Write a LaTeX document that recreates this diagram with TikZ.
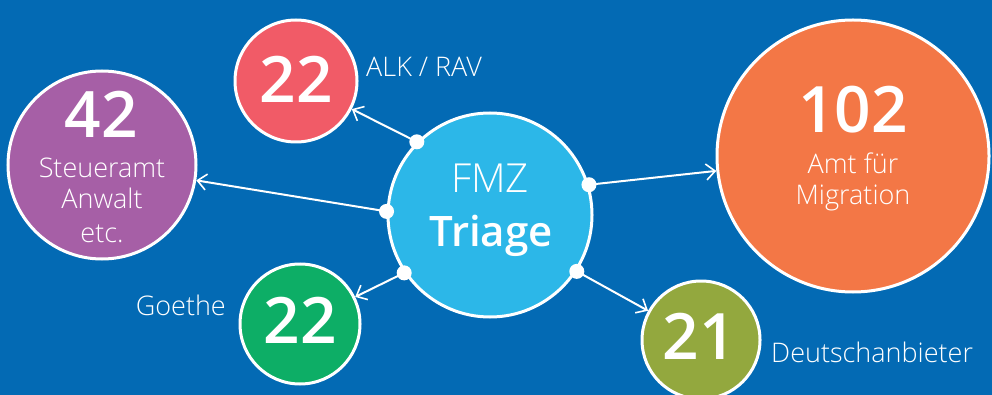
\documentclass[tikz,border=0pt]{standalone}
\usepackage{fontspec}
\setmainfont{Open Sans}
\IfFontExistsTF{Open Sans Light}{\newfontfamily\lightfont{Open Sans Light}}{\newfontfamily\lightfont{Open Sans}}
\IfFontExistsTF{Open Sans SemiBold}{\newfontfamily\semifont{Open Sans SemiBold}}{\IfFontExistsTF{Open Sans Semibold}{\newfontfamily\semifont{Open Sans Semibold}}{\newfontfamily\semifont{Open Sans Bold}}}
\usetikzlibrary{arrows.meta}
\definecolor{bgblue}{RGB}{3,106,180}
\definecolor{fmzblue}{RGB}{44,183,232}
\definecolor{redc}{RGB}{241,91,103}
\definecolor{purplec}{RGB}{166,95,166}
\definecolor{orangec}{RGB}{243,119,70}
\definecolor{greenc}{RGB}{13,174,102}
\definecolor{olivec}{RGB}{147,168,62}
\tikzset{
  bubble/.style={circle, draw=white, line width=3pt, inner sep=0pt},
  num/.style={text=white, anchor=base, inner sep=0pt, font=\semifont\fontsize{64}{64}\selectfont},
  lbl/.style={text=white, anchor=base, inner sep=0pt, font=\lightfont\fontsize{27}{27}\selectfont},
  link/.style={draw=white, line width=2pt, -{Straight Barb[length=9pt,width=16pt,line width=1.6pt]}},
  dotc/.style={circle, fill=white, inner sep=0pt, minimum size=15pt}
}
\begin{document}
\begin{tikzpicture}[x=1pt,y=-1pt]
\useasboundingbox (0,0) rectangle (992,395);
\clip (0,0) rectangle (992,395);
\fill[bgblue] (0,0) rectangle (992,395);
% circles
\node[bubble, fill=fmzblue, minimum size=204pt] (fmz) at (490,215) {};
\node[bubble, fill=redc, minimum size=122pt] (alk) at (296,81) {};
\node[bubble, fill=purplec, minimum size=188pt] (steuer) at (102,165) {};
\node[bubble, fill=orangec, minimum size=272pt] (amt) at (853,156) {};
\node[bubble, fill=greenc, minimum size=120pt] (goethe) at (300,324) {};
\node[bubble, fill=olivec, minimum size=118pt] (deutsch) at (701,340) {};
% connection points
\coordinate (p1) at (fmz.135.8);
\coordinate (p2) at (fmz.178.9);
\coordinate (p3) at (fmz.214.2);
\coordinate (p4) at (fmz.17.6);
\coordinate (p5) at (fmz.-33.5);
\draw[link] (p1) -- (alk);
\draw[link] (p2) -- (steuer);
\draw[link] (p3) -- (goethe);
\draw[link] (p4) -- (amt);
\draw[link] (p5) -- (deutsch);
\node[dotc] (d1) at (p1) {};
\node[dotc] (d2) at (p2) {};
\node[dotc] (d3) at (p3) {};
\node[dotc] (d4) at (p4) {};
\node[dotc] (d5) at (p5) {};
% texts
\node[lbl, font=\lightfont\fontsize{40}{40}\selectfont] (fmzt) at (490,193) {FMZ};
\node[num, font=\semifont\fontsize{42}{42}\selectfont] (triage) at (491,246) {Triage};
\node[num] (alkn) at (296,103) {22};
\node[lbl, anchor=base west] (alkl) at (366,77) {ALK / RAV};
\node[num] (steuern) at (101,138) {42};
\node[lbl] (steuer1) at (102,178) {Steueramt};
\node[lbl] (steuer2) at (102,209) {Anwalt};
\node[lbl] (steuer3) at (102,242) {etc.};
\node[num] (amtn) at (853,133) {102};
\node[lbl] (amt1) at (853,174) {Amt für};
\node[lbl] (amt2) at (853,205) {Migration};
\node[num] (goethen) at (300,343) {22};
\node[lbl, anchor=base east] (goethel) at (226,315) {Goethe};
\node[num] (deutschn) at (699,359) {21};
\node[lbl, anchor=base west] (deutschl) at (771,362) {Deutschanbieter};
\end{tikzpicture}
\end{document}
